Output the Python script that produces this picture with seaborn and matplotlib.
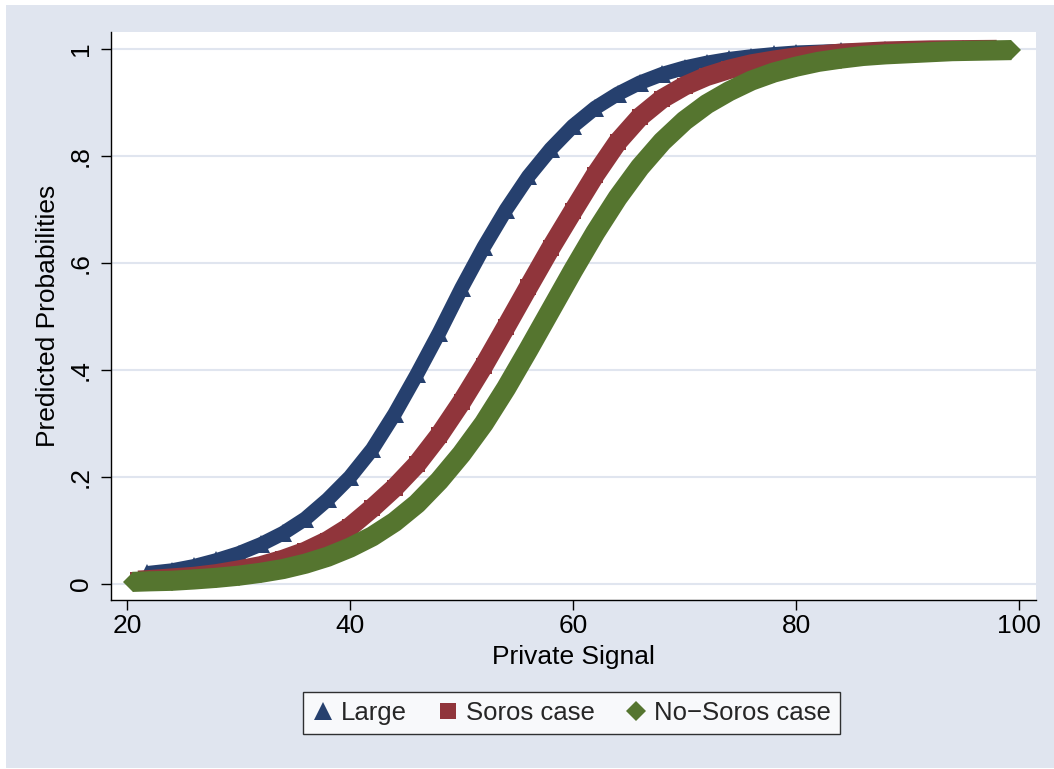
import matplotlib
matplotlib.use("Agg")
import matplotlib.pyplot as plt
from matplotlib.patches import Rectangle
from matplotlib.lines import Line2D
import seaborn as sns

# ---- data ----
series_names = ["Large", "Soros case", "No\u2212Soros case"]

large_x = [21.8, 24, 26, 28, 30, 32, 34, 36, 38, 40, 42, 44, 46, 48, 50, 52, 54, 56, 58, 60,
           62, 64, 66, 68, 70, 72, 74, 76, 78, 80, 84, 88, 92, 95]
large_y = [0.020, 0.025, 0.033, 0.044, 0.057, 0.074, 0.095, 0.122, 0.158, 0.200, 0.252, 0.318,
           0.392, 0.470, 0.553, 0.630, 0.700, 0.762, 0.813, 0.856, 0.890, 0.916, 0.937, 0.953,
           0.965, 0.974, 0.981, 0.986, 0.990, 0.993, 0.996, 0.998, 0.999, 0.9993]

soros_x = [21, 22, 24, 26, 28, 30, 32, 34, 36, 38, 40, 42, 44, 46, 48, 50, 52, 54, 56, 58, 60,
           62, 64, 66, 68, 70, 72, 74, 76, 78, 80, 84, 88, 92, 98]
soros_y = [0.007, 0.008, 0.011, 0.014, 0.019, 0.026, 0.034, 0.046, 0.061, 0.081, 0.107, 0.142,
           0.180, 0.224, 0.278, 0.340, 0.408, 0.481, 0.555, 0.628, 0.697, 0.765, 0.826, 0.873,
           0.907, 0.931, 0.949, 0.962, 0.972, 0.979, 0.985, 0.992, 0.996, 0.998, 0.999]

nosoros_x = [20.5, 22, 24, 26, 28, 30, 32, 34, 36, 38, 40, 42, 44, 46, 48, 50, 52, 54, 56, 58,
             60, 62, 64, 66, 68, 70, 72, 74, 76, 78, 80, 82, 84, 86, 88, 90, 94, 99.3]
nosoros_y = [0.004, 0.005, 0.006, 0.0085, 0.0115, 0.0155, 0.021, 0.028, 0.038, 0.051, 0.068,
             0.089, 0.116, 0.150, 0.193, 0.243, 0.300, 0.366, 0.438, 0.512, 0.586, 0.657, 0.722,
             0.779, 0.827, 0.866, 0.897, 0.921, 0.941, 0.956, 0.967, 0.976, 0.982, 0.987, 0.990,
             0.992, 0.996, 0.998]

x_ticks = [20, 40, 60, 80, 100]
y_ticks = [0, 0.2, 0.4, 0.6, 0.8, 1.0]
y_tick_labels = ["0", ".2", ".4", ".6", ".8", "1"]
x_label = "Private Signal"
y_label = "Predicted Probabilities"

# ---- style ----
NAVY = "#26406E"
MAROON = "#90353B"
GREEN = "#55752F"
BG = "#E0E5EF"
GRID = "#E0E5EF"
FS = 19

sns.set_theme(style="white")
plt.rcParams["font.family"] = ["Liberation Sans", "DejaVu Sans"]

W, H = 1054, 769
fig = plt.figure(figsize=(W / 100, H / 100), dpi=100)
fig.patch.set_facecolor("white")
fig.patches.append(Rectangle((6 / W, 1 / H), 1048 / W, 763 / H, transform=fig.transFigure,
                             facecolor=BG, edgecolor="none", zorder=-10))

ax = fig.add_axes([111 / W, 1 - 600 / H, 925 / W, 568 / H])
ax.set_facecolor("white")

sns.lineplot(x=large_x, y=large_y, ax=ax, color=NAVY, linewidth=10.5, marker="^",
             markersize=12.5, markeredgewidth=0, sort=False, estimator=None,
             solid_capstyle="butt", solid_joinstyle="round", zorder=3)
sns.lineplot(x=soros_x, y=soros_y, ax=ax, color=MAROON, linewidth=14, marker="s",
             markersize=11.5, markeredgewidth=0, sort=False, estimator=None,
             solid_capstyle="butt", solid_joinstyle="round", zorder=4)
sns.lineplot(x=nosoros_x, y=nosoros_y, ax=ax, color=GREEN, linewidth=14.5, marker="D",
             markersize=10.5, markeredgewidth=0, sort=False, estimator=None,
             solid_capstyle="butt", solid_joinstyle="round", zorder=5)

ax.set_xlim(18.565, 101.52)
ax.set_ylim(-0.0299, 1.0318)
ax.set_xticks(x_ticks)
ax.set_xticklabels([str(v) for v in x_ticks])
ax.set_yticks(y_ticks)
ax.set_yticklabels(y_tick_labels, rotation=90, va="center")

ax.yaxis.grid(True, color=GRID, linewidth=1.5)
ax.xaxis.grid(False)
ax.set_axisbelow(True)

for s in ["top", "right"]:
    ax.spines[s].set_visible(False)
for s in ["left", "bottom"]:
    ax.spines[s].set_color("black")
    ax.spines[s].set_linewidth(1.0)

ax.tick_params(axis="both", which="major", direction="out", length=7.5, width=1.0,
               color="black", labelsize=FS, labelcolor="black", left=True, bottom=True)
ax.tick_params(axis="x", pad=2.5)
ax.tick_params(axis="y", pad=5.5)

ax.set_xlabel(x_label, fontsize=FS, color="black")
ax.set_ylabel(y_label, fontsize=FS, color="black", va="center")
ax.xaxis.set_label_coords(0.5, -0.0792)
ax.yaxis.set_label_coords((48 - 111) / 925, 0.5)

handles = [
    Line2D([], [], linestyle="none", marker="^", color=NAVY, markersize=12.5, markeredgewidth=0),
    Line2D([], [], linestyle="none", marker="s", color=MAROON, markersize=11, markeredgewidth=0),
    Line2D([], [], linestyle="none", marker="D", color=GREEN, markersize=10.5, markeredgewidth=0),
]
leg = fig.legend(handles, series_names, loc="center", bbox_to_anchor=(571.5 / W, 1 - 713 / H),
                 ncol=3, fontsize=18.5, frameon=True, fancybox=False, shadow=False,
                 handlelength=0.8, handletextpad=0.3, columnspacing=1.2, borderpad=0.35,
                 borderaxespad=0)
leg.get_frame().set_edgecolor("black")
leg.get_frame().set_linewidth(1.0)
leg.get_frame().set_facecolor("white")

fig.savefig("out.png", dpi=100, facecolor=fig.get_facecolor())
